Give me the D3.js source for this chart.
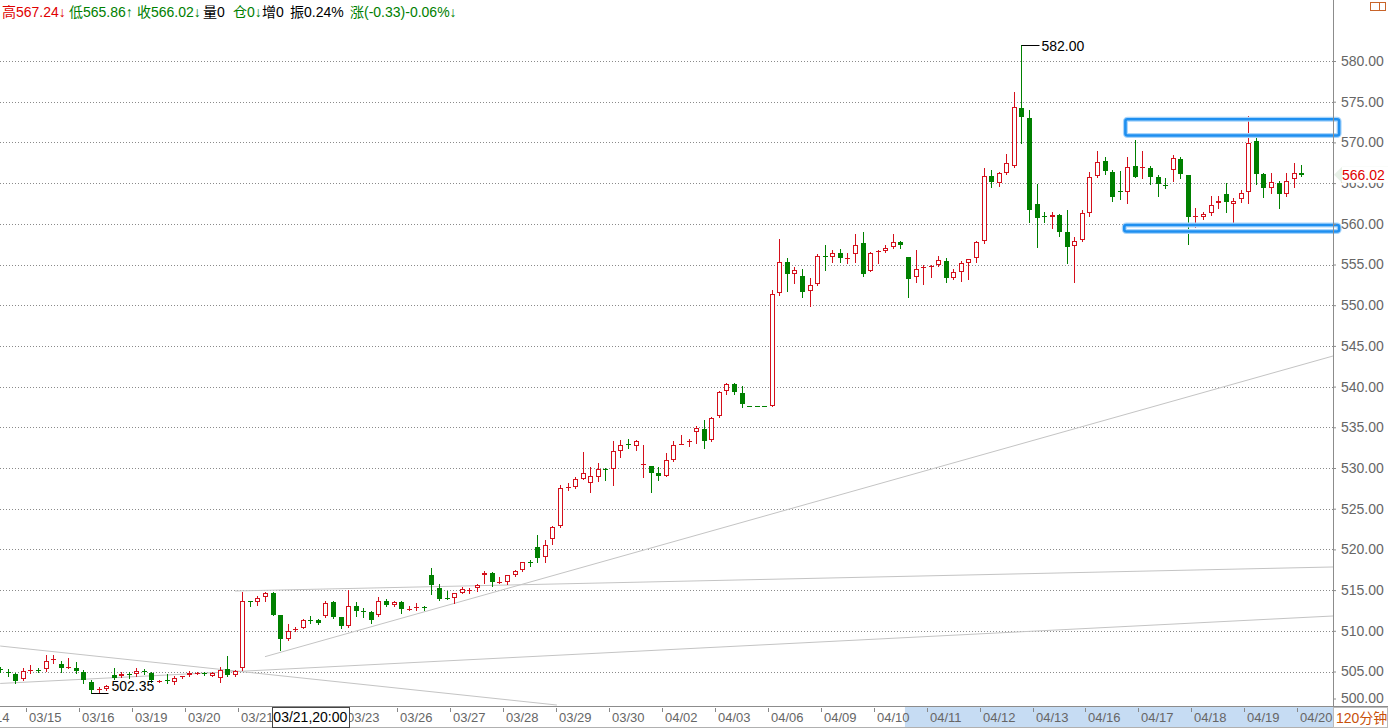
<!DOCTYPE html>
<html><head><meta charset="utf-8">
<script src="https://cdn.jsdelivr.net/npm/d3@7"></script>
<style>
html,body{margin:0;padding:0;background:#fff;overflow:hidden}
svg{display:block;font-family:Arial,"Liberation Sans","Noto Sans CJK SC",sans-serif}
</style></head><body>
<svg id="c" width="1388" height="728"></svg>
<script>
// ---------- data (120-minute bars) ----------
const openV=[505.3,504.9,504.65,504.05,505.05,505.2,505.3,506.45,505.9,505.4,505.45,505.0,503.75,502.7,502.8,504.55,504.4,504.7,504.7,505.05,
504.85,503.7,504.0,503.7,504.3,504.6,504.7,504.8,504.5,504.15,505.25,504.6,505.4,513.6,513.5,514.1,514.7,511.9,509.0,510.15,
510.4,511.3,511.35,511.85,513.5,511.65,510.6,513.05,512.4,512.35,512.0,513.65,513.15,513.55,512.6,512.8,512.9,516.85,515.3,514.05,
514.0,514.7,514.95,515.2,516.9,517.05,515.9,516.05,516.85,517.5,518.4,520.35,519.1,521.25,522.9,527.5,527.7,528.7,528.2,528.95,
529.9,529.85,532.1,532.95,532.75,530.45,530.25,529.35,529.05,531.0,532.9,533.15,534.45,534.85,533.45,536.4,539.45,540.3,539.2,537.6,
537.6,537.6,537.65,551.45,555.25,553.8,553.6,551.8,552.55,556.0,555.9,556.4,555.7,556.3,557.6,554.25,556.5,556.6,557.1,557.75,
555.9,553.45,554.55,554.75,554.95,555.45,553.3,554.1,555.15,555.75,557.9,565.85,565.05,566.2,567.1,574.2,572.95,562.45,560.9,560.8,
561.1,559.05,557.25,557.95,561.35,565.85,567.7,566.35,564.0,563.9,567.1,566.85,566.9,565.7,564.75,566.6,567.95,566.0,560.9,560.85,
561.3,562.5,563.6,562.4,563.05,563.9,570.15,566.1,564.35,565.0,563.65,565.45,566.3];
const highV=[505.5,505.3,504.85,505.4,505.8,505.4,507.0,507.0,506.3,506.6,506.2,505.2,503.9,503.1,503.3,505.4,505.0,505.0,505.4,505.3,
504.9,503.9,504.65,504.4,504.5,505.1,505.0,504.9,505.0,505.6,506.9,505.2,514.8,513.7,514.3,514.75,514.8,512.0,510.8,510.5,
511.5,511.8,511.4,513.7,513.6,511.75,515.0,513.5,512.8,512.4,514.1,513.9,513.6,513.6,513.0,513.4,513.1,517.7,515.8,514.9,
514.7,515.4,515.3,515.8,517.35,517.25,516.65,516.9,517.45,518.5,518.7,521.75,521.2,522.9,527.9,528.1,528.9,532.0,530.15,530.6,
530.0,533.35,533.5,533.55,533.4,532.8,530.3,530.1,531.9,533.3,534.0,533.55,535.15,535.9,536.3,539.45,540.5,540.4,540.05,537.6,
537.6,537.6,551.9,558.1,555.85,554.7,554.5,553.4,556.35,557.4,556.8,556.85,556.4,558.75,558.95,556.5,556.8,557.4,558.7,557.9,
555.95,556.8,554.95,554.9,556.1,555.75,554.4,555.45,555.7,557.9,566.9,566.6,566.4,568.55,576.15,582.0,574.0,564.85,561.5,561.5,
561.15,561.7,558.4,561.7,566.4,568.95,568.15,566.55,566.5,568.15,570.3,569.0,567.15,566.0,565.6,568.45,568.25,566.05,562.0,561.5,
563.4,563.4,565.05,563.15,564.2,573.25,571.05,566.2,566.2,565.25,566.2,567.5,567.24];
const lowV=[505.0,504.4,503.6,504.0,504.8,504.9,505.1,506.0,504.95,505.4,504.8,503.6,502.35,502.5,502.75,504.1,504.35,504.2,504.45,504.65,
503.7,503.65,503.55,503.45,504.25,504.5,504.65,504.55,504.45,503.75,504.5,504.5,505.2,513.0,513.2,513.7,511.9,507.6,508.85,509.95,
510.3,511.0,510.8,511.65,511.6,510.4,510.5,511.8,511.7,511.0,511.8,513.0,513.1,512.2,512.6,512.55,512.6,514.5,513.8,513.9,
513.45,514.6,514.7,514.9,515.9,515.55,515.85,515.7,516.7,517.4,518.0,518.5,518.5,520.7,522.8,527.3,527.6,528.7,527.0,528.4,
528.5,527.9,531.4,532.4,532.2,528.9,527.0,528.5,529.0,530.9,532.9,532.75,533.05,532.5,533.35,536.3,539.05,539.05,537.5,537.6,
537.6,537.6,537.6,551.25,551.8,552.7,550.95,549.95,552.5,554.3,555.35,555.35,555.2,555.35,553.6,554.15,555.2,556.55,557.05,557.05,
550.95,552.8,552.55,553.5,554.8,552.8,553.25,553.0,553.2,555.35,557.6,564.5,564.7,566.1,566.95,569.9,560.25,557.2,560.2,559.5,
558.55,555.15,552.8,557.85,561.0,565.8,566.1,562.85,563.1,562.5,565.75,565.6,564.85,563.45,564.45,565.3,565.6,557.5,559.65,560.6,
561.05,562.0,561.5,560.05,562.65,562.5,564.9,563.25,563.8,562.0,563.45,564.55,565.86];
const closeV=[505.2,504.8,503.85,505.1,505.15,505.1,506.3,506.55,505.4,505.5,505.05,503.9,502.75,502.8,503.2,504.2,504.65,504.6,505.1,504.95,
503.95,503.85,503.9,504.15,504.45,504.85,504.85,504.65,504.85,505.2,504.6,505.1,513.65,513.55,514.0,514.6,512.0,509.0,510.0,510.25,
511.3,511.2,510.9,513.4,511.75,510.6,513.05,512.45,512.3,511.35,513.7,513.15,513.55,512.65,512.65,512.9,512.8,515.6,513.9,513.95,
514.6,515.1,515.05,515.6,517.05,516.05,516.0,516.85,517.35,518.4,518.35,519.0,520.6,522.8,527.5,527.65,528.6,529.35,529.0,529.85,
529.8,532.05,532.8,532.85,533.3,530.55,529.4,529.05,531.0,532.8,533.0,533.3,534.9,533.35,536.2,539.3,540.3,539.3,537.85,537.6,
537.6,537.6,551.35,555.25,553.8,554.3,551.6,552.5,556.05,555.9,556.4,555.75,555.8,557.4,553.8,556.4,556.65,557.0,557.75,557.4,
553.2,554.4,554.65,554.85,555.55,553.4,554.05,555.15,555.65,557.75,565.85,565.15,566.2,567.45,574.3,573.1,561.7,560.75,560.85,561.1,
559.05,557.2,557.9,561.3,565.7,567.65,566.5,563.25,563.9,567.0,565.8,566.95,565.8,564.85,564.6,568.1,566.1,560.85,561.0,561.2,
562.3,562.85,562.65,562.85,563.75,569.95,566.1,564.35,565.1,563.6,565.3,566.2,566.02];

const tickAt=[-3,4,11,18,25,32,39,46,53,60,67,74,81,88,95,102,109,116,123,130,137,144,151,158,165,172];
const tickLabels=["03/14","03/15","03/16","03/19","03/20","03/21","03/22","03/23","03/26","03/27","03/28","03/29","03/30",
"04/02","04/03","04/06","04/09","04/10","04/11","04/12","04/13","04/16","04/17","04/18","04/19","04/20"];
const yTicks=[500,505,510,515,520,525,530,535,540,545,550,555,560,565,570,575,580];

// header quote line
const headerTexts=["高567.24↓","低565.86↑","收566.02↓","量0","仓0↓","增0","振0.24%","涨(-0.33)-0.06%↓"];
const headerColors=["#e00000","#008000","#008000","#000","#008000","#000","#000","#008000"];
const lastPrice=566.02;
const crossLabel="03/21,20:00", crossIndex=41;
const periodLabel="120分钟";

// drawn objects: trend lines [index, price] pairs, and two boxes [fromIndex, toIndex, top, bottom]
const trendLines=[
  [[0,503.53],[176.2,511.82]],
  [[0,508.13],[73.6,500.88]],
  [[35.0,506.82],[176.2,543.76]],
  [[31.04,514.89],[176.2,517.84]]
];
const boxes=[[148.75,177.0,572.85,570.85],[148.6,177.0,559.85,559.05]];
const selectionRange=[119.6,176.0];

// ---------- layout ----------
const W=1388,H=728, axisX=1333, plotTop=22, plotBottom=706;
const RED="#d4101c", GREEN="#008000";
const svg=d3.select("#c");
const x=d3.scaleLinear().domain([0,172]).range([0.2,1301.3]);
const y=d3.scaleLinear().domain([500,580]).range([712.2,61]);

svg.append("defs").append("clipPath").attr("id","plot")
  .append("rect").attr("x",0).attr("y",plotTop).attr("width",axisX).attr("height",plotBottom-plotTop);

// grid
svg.append("g").selectAll("line").data(yTicks.filter(v=>y(v)<plotBottom)).join("line")
  .attr("x1",0).attr("x2",axisX).attr("y1",d=>Math.round(y(d))+0.5).attr("y2",d=>Math.round(y(d))+0.5)
  .attr("stroke","#8a8a8a").attr("stroke-dasharray","1,2").attr("shape-rendering","crispEdges");

const plot=svg.append("g").attr("clip-path","url(#plot)");

// trend lines
plot.append("g").selectAll("line").data(trendLines).join("line")
  .attr("x1",d=>x(d[0][0])).attr("y1",d=>y(d[0][1]))
  .attr("x2",d=>x(d[1][0])).attr("y2",d=>y(d[1][1]))
  .attr("stroke","#c4c4c4").attr("stroke-width",1);

// candles
const data=openV.map((o,i)=>({i,o,h:highV[i],l:lowV[i],c:closeV[i]}));
const up=d=>d.c>d.o;
const cx=d=>Math.round(x(d.i));
const cg=plot.append("g");
cg.selectAll("line").data(data).join("line")
  .attr("x1",d=>cx(d)+0.5).attr("x2",d=>cx(d)+0.5)
  .attr("y1",d=>Math.round(y(d.h))).attr("y2",d=>Math.round(y(d.l))+1)
  .attr("stroke",d=>up(d)?RED:GREEN).attr("shape-rendering","crispEdges");
cg.selectAll("rect").data(data).join("rect")
  .each(function(d){
    const s=d3.select(this);
    const yt=Math.round(y(Math.max(d.o,d.c))), yb=Math.round(y(Math.min(d.o,d.c)));
    const h=yb-yt;
    if(h<2){
      s.attr("x",cx(d)-2).attr("width",5).attr("y",yt).attr("height",Math.max(h,1)+ (h<1?0:0))
       .attr("fill",up(d)?RED:GREEN);
    } else if(up(d)){
      s.attr("x",cx(d)-1.5).attr("width",4).attr("y",yt+0.5).attr("height",h-1)
       .attr("fill","#fff").attr("stroke",RED).attr("stroke-width",1);
    } else {
      s.attr("x",cx(d)-2).attr("width",5).attr("y",yt).attr("height",h).attr("fill",GREEN);
    }
  }).attr("shape-rendering","crispEdges");

// boxes
const bx=svg.append("g");
boxes.forEach(b=>{
  const r={x:x(b[0]),y:y(b[2]),w:x(b[1])-x(b[0]),h:y(b[3])-y(b[2])};
  bx.append("rect").attr("x",r.x).attr("y",r.y).attr("width",r.w).attr("height",r.h)
    .attr("rx",2).attr("fill","none").attr("stroke","#a9d5fb").attr("stroke-width",5);
  bx.append("rect").attr("x",r.x).attr("y",r.y).attr("width",r.w).attr("height",r.h)
    .attr("rx",2).attr("fill","none").attr("stroke","#1e8ff0").attr("stroke-width",2.6);
});

// max / min annotations
const iMax=d3.maxIndex(highV), iMin=d3.minIndex(lowV);
const ann=svg.append("g").attr("font-size",14).attr("fill","#000");
{
  const px=cx(data[iMax])+0.5, py=Math.round(y(highV[iMax]))+0.5;
  ann.append("line").attr("x1",px).attr("x2",px+18).attr("y1",py).attr("y2",py).attr("stroke","#000");
  ann.append("text").attr("x",px+20).attr("y",py+5).text(highV[iMax].toFixed(2));
}
{
  const px=cx(data[iMin])+0.5, py=Math.round(y(lowV[iMin]))+0.5;
  ann.append("line").attr("x1",px).attr("x2",px+17).attr("y1",py).attr("y2",py).attr("stroke","#000");
  ann.append("text").attr("x",px+20).attr("y",py-3).text(lowV[iMin].toFixed(2));
}

// right axis
svg.append("line").attr("x1",axisX+0.5).attr("x2",axisX+0.5).attr("y1",0).attr("y2",H)
  .attr("stroke","#8c8c8c");
const ya=svg.append("g").attr("transform",`translate(${axisX},0)`)
  .call(d3.axisRight(y).tickValues(yTicks).tickFormat(d3.format(".2f")).tickSize(3).tickPadding(5));
ya.select(".domain").remove();
ya.selectAll(".tick line").attr("stroke","#8c8c8c");
ya.selectAll(".tick text").attr("font-size",14).attr("fill","#666").attr("font-family",null);
ya.selectAll(".tick").filter(d=>d===500).attr("transform","translate(0,699)");

// last price tag
{
  const py=y(lastPrice);
  const tg=svg.append("g");
  tg.append("path").attr("d",`M${axisX+1},${py} L${axisX+9},${py-8} L${W},${py-8} L${W},${py+8} L${axisX+9},${py+8} Z`)
    .attr("fill","#e8f1e8");
  tg.append("rect").attr("x",axisX+9).attr("y",py-8).attr("width",W-axisX-9).attr("height",16).attr("fill","#fff");
  tg.append("text").attr("x",axisX+9).attr("y",py+5).attr("font-size",14).attr("fill","#e00000").text(lastPrice.toFixed(2));
}

// top-right icon
svg.append("rect").attr("x",1370.5).attr("y",2.5).attr("width",15).attr("height",8).attr("fill","none").attr("stroke","#c8642a");
svg.append("line").attr("x1",1379.5).attr("x2",1379.5).attr("y1",2.5).attr("y2",10.5).attr("stroke","#c8642a");

// header
const ht=svg.append("g").attr("font-size",14);
const hx=[2,69,137,203,233,262,290,350];
headerTexts.forEach((t,k)=>ht.append("text").attr("x",hx[k]).attr("y",17).attr("fill",headerColors[k]).text(t));

// bottom axis strip
const xa=svg.append("g");
xa.append("rect").attr("x",x(selectionRange[0])).attr("y",plotBottom+1).attr("width",axisX-x(selectionRange[0])).attr("height",H-plotBottom-1)
  .attr("fill","#c6dcf3");
xa.append("line").attr("x1",0).attr("x2",W).attr("y1",plotBottom+0.5).attr("y2",plotBottom+0.5).attr("stroke","#8c8c8c");
xa.append("line").attr("x1",0).attr("x2",axisX).attr("y1",H-0.5).attr("y2",H-0.5).attr("stroke","#b0b0b0");
const tk=xa.selectAll("g.t").data(tickAt).join("g").attr("class","t");
tk.append("line").attr("x1",d=>Math.round(x(d))-3.5).attr("x2",d=>Math.round(x(d))-3.5)
  .attr("y1",plotBottom+2).attr("y2",plotBottom+6).attr("stroke","#888");
tk.append("text").attr("x",d=>Math.round(x(d))-1).attr("y",722).attr("font-size",13).attr("fill","#666")
  .text((d,k)=>tickLabels[k]);

// crosshair time label
{
  const w=77, c=x(crossIndex);
  xa.append("rect").attr("x",Math.round(c-w/2)+0.5).attr("y",plotBottom+1.5).attr("width",w).attr("height",20)
    .attr("fill","#fff").attr("stroke","#444");
  xa.append("text").attr("x",c).attr("y",722).attr("text-anchor","middle").attr("font-size",14).attr("fill","#000").text(crossLabel);
}
// period label
xa.append("rect").attr("x",axisX+0.5).attr("y",plotBottom+1.5).attr("width",W-axisX-1).attr("height",H-plotBottom-2)
  .attr("fill","#fff").attr("stroke","#bbb");
xa.append("text").attr("x",axisX+3).attr("y",723).attr("font-size",14).attr("fill","#c8500a").text(periodLabel);
</script></body></html>
